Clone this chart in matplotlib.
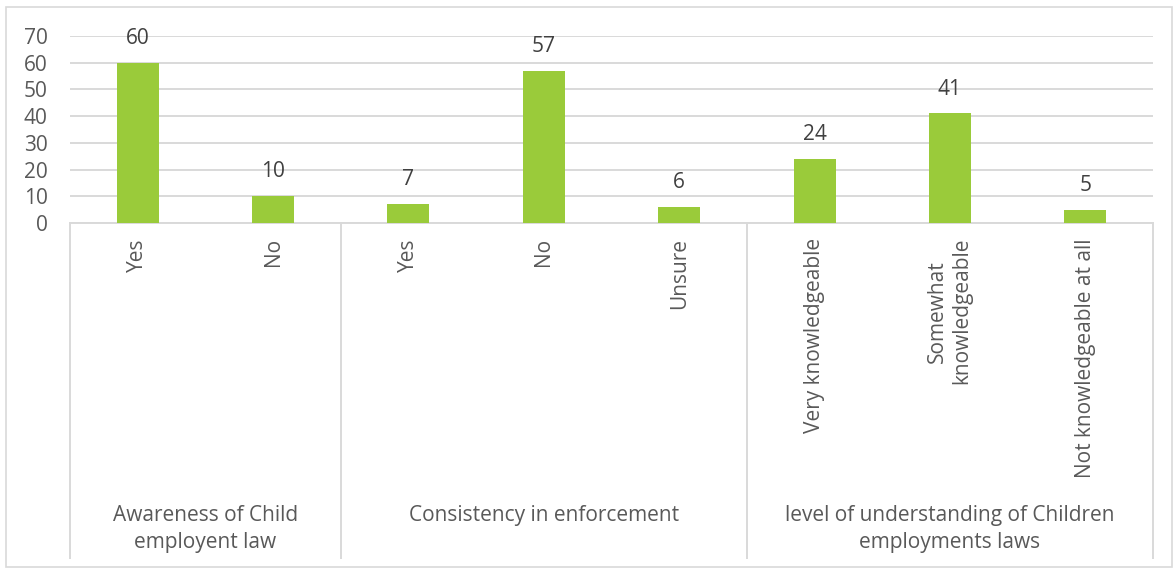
import matplotlib.pyplot as plt
import matplotlib.transforms as mtransforms
from matplotlib.patches import Rectangle

# data
groups = ["Awareness of Child\nemployent law",
          "Consistency in enforcement",
          "level of understanding of Children\nemployments laws"]
group_sizes = [2, 3, 3]
answers = ["Yes", "No",
           "Yes", "No", "Unsure",
           "Very knowledgeable", "Somewhat\nknowledgeable", "Not knowledgeable at all"]
counts = [60, 10, 7, 57, 6, 24, 41, 5]

plt.rcParams['font.family'] = ['Open Sans', 'DejaVu Sans']
txt_col = '#595959'
grid_col = '#D9D9D9'
bar_col = '#9ACB3A'
fs = 15

W, H = 1174, 568
fig = plt.figure(figsize=(W / 100, H / 100), dpi=100)
ax = fig.add_axes([70 / W, 1 - 223 / H, (1153 - 70) / W, (223 - 36) / H])

x = list(range(len(counts)))
bars = ax.bar(x, counts, width=0.31, color=bar_col, zorder=3)
for xi, v in zip(x, counts):
    ax.annotate(str(v), (xi, v), xytext=(0, 10), textcoords='offset points',
                ha='center', va='bottom', fontsize=fs, color='#404040')

ax.set_xlim(-0.5, len(counts) - 0.5)
ax.set_ylim(0, 70)
ax.set_yticks(range(0, 71, 10))
ax.yaxis.grid(True, color=grid_col, linewidth=1.4, zorder=0)
ax.set_xticks([])
ax.tick_params(axis='y', length=0, pad=16, labelsize=fs, labelcolor=txt_col)
for s in ['top', 'right', 'left']:
    ax.spines[s].set_visible(False)
ax.spines['bottom'].set_color(grid_col)
ax.spines['bottom'].set_linewidth(1.4)

trans = mtransforms.blended_transform_factory(ax.transData, fig.transFigure)
y_axis = 1 - 223 / H
y_bottom = 1 - 558 / H

# sub category labels
for xi, lab in zip(x, answers):
    ax.text(xi, 1 - 238 / H, lab, transform=trans, rotation=90, ha='center',
            va='top', multialignment='center', fontsize=fs, color=txt_col,
            linespacing=1.2)

# group separators and labels
pos = -0.5
ax.plot([pos, pos], [y_axis, y_bottom], transform=trans, color=grid_col,
        linewidth=1.4, clip_on=False)
for g, n in zip(groups, group_sizes):
    mid = pos + n / 2
    pos += n
    ax.plot([pos, pos], [y_axis, y_bottom], transform=trans, color=grid_col,
            linewidth=1.4, clip_on=False)
    ax.text(mid, 1 - 505 / H, g, transform=trans, ha='center', va='top',
            fontsize=fs, color=txt_col, linespacing=1.35)

fig.add_artist(Rectangle((6 / W, 1 / H), 1 - 8 / W, 1 - 8 / H,
                         transform=fig.transFigure, fill=False,
                         edgecolor=grid_col, linewidth=1.2))

fig.savefig('out.png', dpi=100)
